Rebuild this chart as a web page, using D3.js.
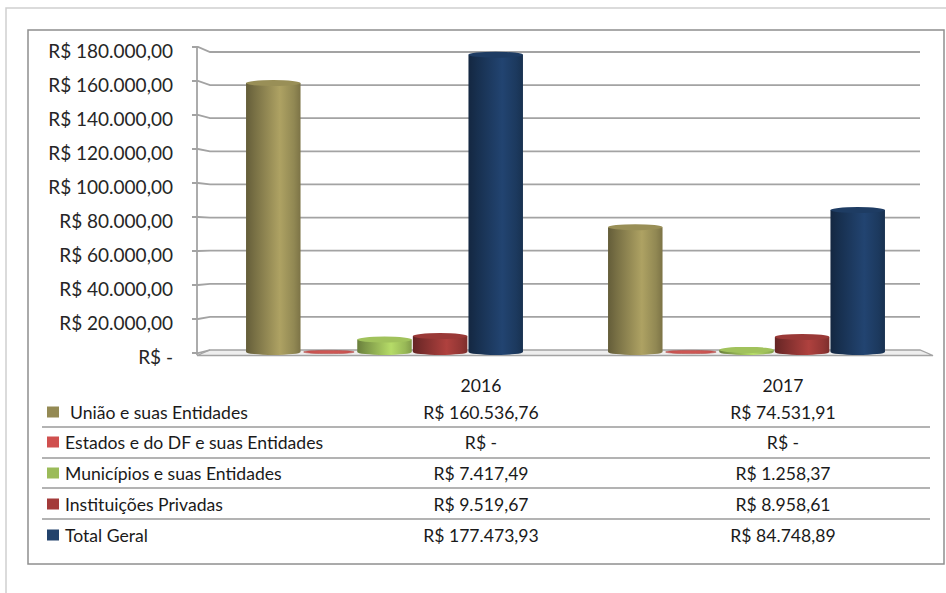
<!DOCTYPE html>
<html>
<head>
<meta charset="utf-8">
<script src="https://cdn.jsdelivr.net/npm/d3@7"></script>
<style>
  html, body { margin: 0; padding: 0; background: #fff; }
  svg { display: block; font-family: Lato, "Open Sans", sans-serif; }
</style>
</head>
<body>
<svg id="chart" width="946" height="593"></svg>
<script>
// Categories (years) and series
const years = ["2016", "2017"];
const seriesNames = [
  "União e suas Entidades",
  "Estados e do DF e suas Entidades",
  "Municípios e suas Entidades",
  "Instituições Privadas",
  "Total Geral"
];
const uniao        = [160536.76, 74531.91];
const estados      = [0, 0];
const municipios   = [7417.49, 1258.37];
const instituicoes = [9519.67, 8958.61];
const totalGeral   = [177473.93, 84748.89];
const seriesColors = ["#948a54", "#c0504d", "#9bbb59", "#953735", "#1d3a60"];
const swatchColors = ["#948a54", "#d0504f", "#9bbb59", "#a33b3a", "#22426c"];
const yTicks = [0, 20000, 40000, 60000, 80000, 100000, 120000, 140000, 160000, 180000];

const seriesValues = [uniao, estados, municipios, instituicoes, totalGeral];

const svg = d3.select("#chart");
const defs = svg.append("defs");

// Brazilian currency formatting
const ptBR = d3.formatLocale({ decimal: ",", thousands: ".", grouping: [3], currency: ["R$ ", ""] });
const fmt2 = ptBR.format(",.2f");
const money = v => v === 0 ? "R$ -" : "R$ " + fmt2(v);

// Outer page frame
svg.append("path")
  .attr("d", "M6,593 V8 H946")
  .attr("fill", "none").attr("stroke", "#cfcfcf").attr("stroke-width", 1.5);

// Chart area border
svg.append("rect")
  .attr("x", 28).attr("y", 30).attr("width", 916).attr("height", 534)
  .attr("fill", "#fff").attr("stroke", "#8f8f8f").attr("stroke-width", 1.5);

// Scales: front edge of the side wall, back wall, and bar depth
const yFront = d3.scaleLinear().domain([0, 180000]).range([353, 47]);
const yBack  = d3.scaleLinear().domain([0, 180000]).range([350, 52]);
const yBar   = d3.scaleLinear().domain([0, 180000]).range([352, 50.5]);

const x0 = d3.scaleBand().domain(years).range([203.5, 927.5])
  .paddingInner(0.235).paddingOuter(0.1175);
const x1 = d3.scaleBand().domain(d3.range(seriesNames.length))
  .range([0, x0.bandwidth()]).paddingInner(0.02);

const gridColor = "#a3a3a3";
const backLeft = 210, backRight = 920;

// Floor
svg.append("path")
  .attr("d", `M${backLeft},${yBack(0)} H${backRight} L933,355.5 H197 Z`)
  .attr("fill", "#eeeeee").attr("stroke", gridColor).attr("stroke-width", 1.3);

// Gridlines: tick, side-wall segment, back-wall line
svg.append("g").selectAll("path").data(yTicks.filter(d => d > 0)).join("path")
  .attr("d", d => `M192,${yFront(d)} H198 L${backLeft},${yBack(d)} H${backRight}`)
  .attr("fill", "none").attr("stroke", gridColor).attr("stroke-width", 1.8);
svg.append("path")
  .attr("d", `M192,${yFront(0)} H198 L${backLeft},${yBack(0)}`)
  .attr("fill", "none").attr("stroke", gridColor).attr("stroke-width", 1.8);

// Vertical axis line
svg.append("line")
  .attr("x1", 197).attr("x2", 197).attr("y1", yFront(180000)).attr("y2", yFront(0) + 2)
  .attr("stroke", gridColor).attr("stroke-width", 1.8);

// Y tick labels
svg.append("g").selectAll("text").data(yTicks).join("text")
  .attr("x", 173).attr("y", d => yFront(d) + 3.5)
  .attr("text-anchor", "end").attr("dominant-baseline", "central")
  .attr("font-size", 19).attr("fill", "#262626")
  .text(d => d === 0 ? "R$ -" : "R$ " + ptBR.format(",.2f")(d));

// Cylinder gradients
seriesColors.forEach((c, i) => {
  const g = defs.append("linearGradient").attr("id", "cyl" + i)
    .attr("x1", "0%").attr("x2", "100%").attr("y1", "0%").attr("y2", "0%");
  g.append("stop").attr("offset", "0%").attr("stop-color", d3.color(c).darker(1.1));
  g.append("stop").attr("offset", "15%").attr("stop-color", d3.color(c).darker(0.6));
  g.append("stop").attr("offset", "62%").attr("stop-color", d3.color(c).brighter(0.45));
  g.append("stop").attr("offset", "88%").attr("stop-color", d3.color(c).darker(0.05));
  g.append("stop").attr("offset", "100%").attr("stop-color", d3.color(c).darker(0.5));
});

// Cylindrical bars
const ry = 3;
const bars = [];
years.forEach((yr, gi) => {
  seriesValues.forEach((vals, si) => {
    bars.push({ year: yr, si, value: vals[gi] });
  });
});

const barG = svg.append("g");
bars.forEach(b => {
  const xl = x0(b.year) + x1(b.si);
  const w = x1.bandwidth();
  const rx = w / 2;
  const yb = yBar(0);
  const yt = yBar(b.value);
  const g = barG.append("g");
  if (b.value > 0) {
    g.append("path")
      .attr("d", `M${xl},${yt} V${yb} A${rx},${ry} 0 0 0 ${xl + w},${yb} V${yt} Z`)
      .attr("fill", `url(#cyl${b.si})`);
    g.append("ellipse")
      .attr("cx", xl + rx).attr("cy", yt).attr("rx", rx).attr("ry", ry)
      .attr("fill", d3.color(seriesColors[b.si]).brighter(0.1));
  } else {
    g.append("ellipse")
      .attr("cx", xl + rx).attr("cy", yb).attr("rx", rx - 2).attr("ry", 1.6)
      .attr("fill", d3.color(seriesColors[b.si]).brighter(0.2))
      .attr("stroke", d3.color(seriesColors[b.si]).darker(0.3)).attr("stroke-width", 0.6);
  }
});

// Data table below the plot
const colX = [481, 783];
const rowY = [412, 442, 473, 504, 535];
const sepY = [427, 458, 488, 519];
const tableFont = 17.6;

svg.append("g").selectAll("text").data(years).join("text")
  .attr("x", (d, i) => colX[i]).attr("y", 385)
  .attr("text-anchor", "middle").attr("dominant-baseline", "central")
  .attr("font-size", tableFont).attr("fill", "#1a1a1a").text(d => d);

svg.append("g").selectAll("line").data(sepY).join("line")
  .attr("x1", 42).attr("x2", 930).attr("y1", d => d).attr("y2", d => d)
  .attr("stroke", "#9a9a9a").attr("stroke-width", 1.5);

const rows = svg.append("g").selectAll("g").data(seriesNames).join("g");
rows.append("rect")
  .attr("x", 47).attr("y", (d, i) => rowY[i] - 5.5).attr("width", 12).attr("height", 11)
  .attr("fill", (d, i) => swatchColors[i]);
rows.append("text")
  .attr("x", (d, i) => i === 0 ? 70 : 65).attr("y", (d, i) => rowY[i])
  .attr("dominant-baseline", "central")
  .attr("font-size", tableFont).attr("fill", "#1a1a1a").text(d => d);
years.forEach((yr, gi) => {
  rows.append("text")
    .attr("x", colX[gi]).attr("y", (d, i) => rowY[i])
    .attr("text-anchor", "middle").attr("dominant-baseline", "central")
    .attr("font-size", tableFont).attr("fill", "#1a1a1a")
    .text((d, i) => money(seriesValues[i][gi]));
});
</script>
</body>
</html>
